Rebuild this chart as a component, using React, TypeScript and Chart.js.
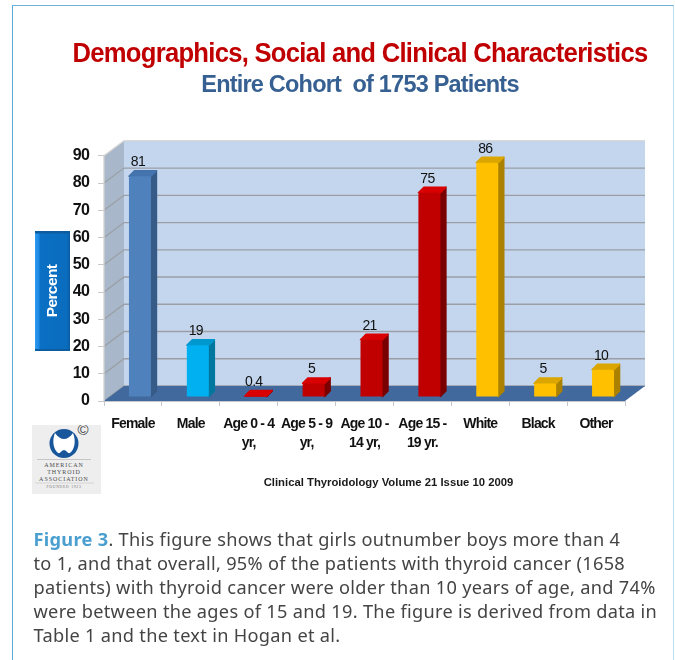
import React, { useEffect, useRef } from "react";
import { Chart, registerables } from "chart.js";

Chart.register(...registerables);

const categories = [
  "Female",
  "Male",
  ["Age 0 - 4", "yr,"],
  ["Age 5 - 9", "yr,"],
  ["Age 10 -", "14 yr,"],
  ["Age 15 -", "19 yr."],
  "White",
  "Black",
  "Other",
];
const percentValues = [81, 19, 0.4, 5, 21, 75, 86, 5, 10];
const yTicks = [0, 10, 20, 30, 40, 50, 60, 70, 80, 90];
const frontColors = ["#4f81bd", "#00b0f0", "#c00000", "#c00000", "#c00000", "#c00000", "#ffc000", "#ffc000", "#ffc000"];
const sideColors = ["#375b87", "#00779f", "#7a0000", "#7a0000", "#7a0000", "#7a0000", "#ab8100", "#ab8100", "#ab8100"];
const topColors = ["#4473ad", "#0097cf", "#d80000", "#d80000", "#d80000", "#d80000", "#dca600", "#dca600", "#dca600"];

const SANS = '"Liberation Sans", Arial, sans-serif';
const TIGHT = "-0.8px";
const WALL_DX = 20;
const WALL_DY = 15;
const BAR_DX = 7;
const BAR_DY = 4;
const FACE_DX = 5.5;
const FACE_DY = 5.5;

function poly(ctx: CanvasRenderingContext2D, pts: number[][], fill: string, rounded = false) {
  ctx.beginPath();
  pts.forEach((p, i) => (i ? ctx.lineTo(p[0], p[1]) : ctx.moveTo(p[0], p[1])));
  ctx.closePath();
  ctx.fillStyle = fill;
  ctx.fill();
  if (rounded) {
    ctx.strokeStyle = fill;
    ctx.lineWidth = 1.5;
    ctx.lineJoin = "round";
    ctx.stroke();
  }
}

const scene = {
  id: "scene",
  beforeDraw(chart: any) {
    // narrow lettering for the title and both axes
    chart.ctx.letterSpacing = TIGHT;
  },
  beforeDatasetsDraw(chart: any) {
    const { ctx, chartArea: a, scales } = chart;
    ctx.save();
    poly(ctx, [[a.left + WALL_DX, a.top - WALL_DY], [a.right + WALL_DX, a.top - WALL_DY], [a.right + WALL_DX, a.bottom - WALL_DY], [a.left + WALL_DX, a.bottom - WALL_DY]], "#c3d6ee");
    poly(ctx, [[a.left, a.top], [a.left + WALL_DX, a.top - WALL_DY], [a.left + WALL_DX, a.bottom - WALL_DY], [a.left, a.bottom]], "#a8b8ca");
    ctx.lineWidth = 1.3;
    for (const v of yTicks) {
      const y = scales.y.getPixelForValue(v);
      ctx.strokeStyle = v === 90 ? "#d2d2d2" : "#9b9fa5";
      ctx.beginPath();
      ctx.moveTo(a.left, y);
      ctx.lineTo(a.left + WALL_DX, y - WALL_DY);
      ctx.lineTo(a.right + WALL_DX, y - WALL_DY);
      ctx.stroke();
    }
    poly(ctx, [[a.left, a.bottom], [a.left + WALL_DX, a.bottom - WALL_DY], [a.right + WALL_DX, a.bottom - WALL_DY], [a.right, a.bottom]], "#41699e");
    ctx.strokeStyle = "#d2d2d2";
    ctx.beginPath();
    ctx.moveTo(a.left, a.top);
    ctx.lineTo(a.left, a.bottom);
    ctx.stroke();
    ctx.restore();

    const g = ctx.createLinearGradient(35, 0, 70, 0);
    g.addColorStop(0, "#2f9bf0");
    g.addColorStop(0.1, "#1c8ae6");
    g.addColorStop(0.16, "#0a70c4");
    g.addColorStop(0.92, "#0a6cbd");
    g.addColorStop(1, "#0a5a9e");
    ctx.save();
    ctx.fillStyle = g;
    ctx.fillRect(35, 231, 35, 120);
    ctx.fillStyle = "#0c5c9f";
    ctx.fillRect(35, 231, 35, 2.5);
    ctx.fillRect(35, 349, 35, 2);
    ctx.restore();
  },
  beforeDatasetDraw(chart: any) {
    const { ctx } = chart;
    ctx.save();
    ctx.translate(BAR_DX, -BAR_DY);
    const meta = chart.getDatasetMeta(0);
    meta.data.forEach((bar: any, i: number) => {
      const { x, y, base, width } = bar.getProps(["x", "y", "base", "width"], true);
      const l = x - width / 2;
      const r = x + width / 2;
      poly(ctx, [[r, y], [r + FACE_DX, y - FACE_DY], [r + FACE_DX, base - FACE_DY], [r, base]], sideColors[i], true);
      poly(ctx, [[l, y], [l + FACE_DX, y - FACE_DY], [r + FACE_DX, y - FACE_DY], [r, y]], topColors[i], true);
    });
  },
  afterDatasetDraw(chart: any) {
    chart.ctx.restore();
  },
  afterDatasetsDraw(chart: any) {
    const { ctx } = chart;
    const meta = chart.getDatasetMeta(0);
    ctx.save();
    ctx.textAlign = "center";
    ctx.textBaseline = "middle";
    ctx.fillStyle = "#111111";
    ctx.font = `14px ${SANS}`;
    ctx.letterSpacing = "-0.7px";
    meta.data.forEach((bar: any, i: number) => {
      const { x, y } = bar.getProps(["x", "y"], true);
      ctx.fillText(String(percentValues[i]), x + BAR_DX - 2, y - BAR_DY - 14);
    });
    ctx.restore();

    ctx.save();
    ctx.translate(53, 291);
    ctx.rotate(-Math.PI / 2);
    ctx.textAlign = "center";
    ctx.textBaseline = "middle";
    ctx.fillStyle = "#ffffff";
    ctx.font = `bold 15.5px ${SANS}`;
    ctx.letterSpacing = "-0.6px";
    ctx.fillText("Percent", 0, 0);
    ctx.restore();

    ctx.save();
    ctx.textAlign = "center";
    ctx.textBaseline = "middle";
    ctx.fillStyle = "#1a1a1a";
    ctx.font = `bold 11.3px ${SANS}`;
    ctx.letterSpacing = "0px";
    ctx.fillText("Clinical Thyroidology Volume 21 Issue 10 2009", 388.5, 483);
    ctx.restore();
  },
};

function Logo() {
  const serif = "Liberation Serif";
  return (
    <svg width={69} height={69} viewBox="0 0 69 69" style={{ position: "absolute", left: 32, top: 425 }}>
      <rect width={69} height={69} fill="#eeeeef" />
      <circle cx={32} cy={18.5} r={14.5} fill="#17569b" />
      <path d="M23 8 C26 12 29 14 32 14 C35 14 38 12 41 8 C44 15 43 24 38 28 C36 29 34 25 32 25 C30 25 28 29 26 28 C21 24 20 15 23 8 Z" fill="#ffffff" />
      <text x={51} y={10} fontSize={15} textAnchor="middle" fill="#444" fontFamily="Liberation Sans">©</text>
      <line x1={5} x2={59} y1={34.5} y2={34.5} stroke="#b5b5b5" strokeWidth={0.7} />
      <text x={32} y={42} fontSize={6} textAnchor="middle" fill="#4d4d4d" fontFamily={serif} letterSpacing={0.95}>AMERICAN</text>
      <text x={32} y={48.5} fontSize={6} textAnchor="middle" fill="#4d4d4d" fontFamily={serif} letterSpacing={0.95}>THYROID</text>
      <text x={32} y={55.5} fontSize={6} textAnchor="middle" fill="#4d4d4d" fontFamily={serif} letterSpacing={0.95}>ASSOCIATION</text>
      <line x1={3} x2={62} y1={58} y2={58} stroke="#c5c5c5" strokeWidth={0.6} />
      <text x={32} y={63} fontSize={3.8} textAnchor="middle" fill="#777" fontFamily={serif} letterSpacing={0.7}>FOUNDED 1923</text>
    </svg>
  );
}

export default function App() {
  const ref = useRef<HTMLCanvasElement>(null);

  useEffect(() => {
    document.body.style.margin = "0";
    const chart = new Chart(ref.current as HTMLCanvasElement, {
      type: "bar",
      data: {
        labels: categories as any,
        datasets: [
          {
            data: percentValues,
            backgroundColor: frontColors,
            barPercentage: 0.76,
            categoryPercentage: 0.5,
            borderRadius: { topLeft: 2, topRight: 2, bottomLeft: 0, bottomRight: 0 },
            borderSkipped: false,
            clip: false as any,
          },
        ],
      },
      options: {
        animation: false,
        responsive: false,
        // the title box is as wide as the lettering should be, which condenses it
        layout: { padding: { left: 72.5, right: 27.5, top: 0, bottom: 0 } },
        plugins: {
          legend: { display: false },
          tooltip: { enabled: false },
          title: {
            display: true,
            text: "Demographics, Social and Clinical Characteristics",
            color: "#c00000",
            font: { family: SANS, size: 28, weight: "bold" },
            padding: { top: 37, bottom: 0 },
          },
          subtitle: {
            display: true,
            text: "Entire Cohort  of 1753 Patients",
            color: "#376092",
            font: { family: SANS, size: 23.5, weight: "bold" },
            padding: { top: 1, bottom: 56 },
          },
        },
        scales: {
          x: {
            grid: { drawOnChartArea: false, drawTicks: true, tickLength: 5, color: "#c4c8cc" },
            border: { color: "#c4c8cc" },
            ticks: {
              color: "#111111",
              maxRotation: 0,
              autoSkip: false,
              padding: 9,
              font: { family: SANS, size: 14, weight: "bold", lineHeight: 1.35 },
            },
            afterFit(scale: any) {
              scale.height = 259;
            },
          },
          y: {
            min: 0,
            max: 90,
            afterBuildTicks(scale: any) {
              scale.ticks = yTicks.map((value) => ({ value }));
            },
            grid: { drawOnChartArea: false, drawTicks: true, tickLength: 6, color: "#c4c8cc" },
            border: { display: false },
            ticks: {
              color: "#111111",
              padding: 9,
              font: { family: SANS, size: 16, weight: "bold" },
            },
            afterFit(scale: any) {
              scale.width = 31.5;
            },
          },
          spacer: {
            axis: "y",
            position: "right",
            display: true,
            grid: { display: false },
            border: { display: false },
            ticks: { display: false },
            afterFit(scale: any) {
              scale.width = 22.5;
            },
          },
        },
      },
      plugins: [scene],
    } as any);
    return () => chart.destroy();
  }, []);

  return (
    <div style={{ position: "relative", width: 675, height: 660, overflow: "hidden", background: "#ffffff" }}>
      <canvas ref={ref} width={675} height={660} style={{ position: "absolute", left: 0, top: 0, width: 675, height: 660 }} />
      <div style={{ position: "absolute", left: 12, top: 5, width: 662, height: 655, borderLeft: "1.5px solid #5aa9d6", borderTop: "1px solid #6fb3dc", borderRight: "1px solid #bcdcf0", boxSizing: "border-box" }} />
      <Logo />
      <div
        style={{
          position: "absolute",
          left: 33.5,
          top: 526.5,
          width: 640,
          fontFamily: '"Noto Sans", sans-serif',
          fontSize: 18.2,
          letterSpacing: 0.3,
          lineHeight: "24.1px",
          color: "#444444",
          whiteSpace: "nowrap",
        }}
      >
        <span style={{ color: "#4a9fd0", fontWeight: 700 }}>Figure 3</span>. This figure shows that girls outnumber boys more than 4
        <br />
        to 1, and that overall, 95% of the patients with thyroid cancer (1658
        <br />
        patients) with thyroid cancer were older than 10 years of age, and 74%
        <br />
        were between the ages of 15 and 19. The figure is derived from data in
        <br />
        Table 1 and the text in Hogan et al.
      </div>
    </div>
  );
}
